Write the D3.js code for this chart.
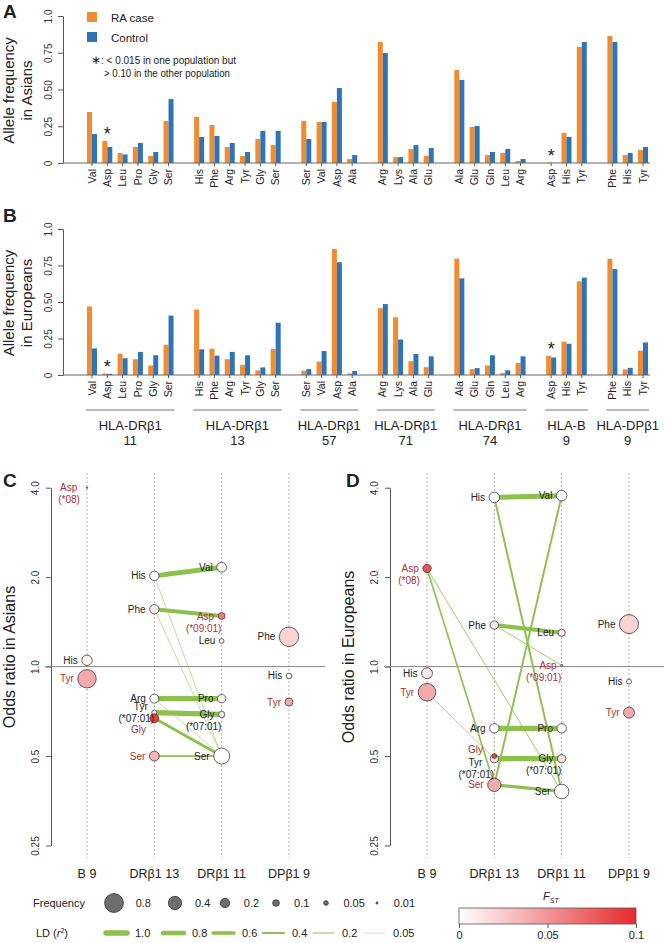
<!DOCTYPE html>
<html>
<head>
<meta charset="utf-8">
<script src="https://cdn.jsdelivr.net/npm/d3@7"></script>
<style>
  body { margin: 0; background: #fff; }
  svg text { font-family: "Liberation Sans", Arial, sans-serif; fill: #222; }
</style>
</head>
<body>
<svg id="fig" width="665" height="943"></svg>
<script>
// ---- bar panels (A, B) ----
const residues = ["Val","Asp","Leu","Pro","Gly","Ser", "His","Phe","Arg","Tyr","Gly","Ser",
  "Ser","Val","Asp","Ala", "Arg","Lys","Ala","Glu", "Ala","Glu","Gln","Leu","Arg",
  "Asp","His","Tyr", "Phe","His","Tyr"];
const geneNames = ["HLA-DRβ1","HLA-DRβ1","HLA-DRβ1","HLA-DRβ1","HLA-DRβ1","HLA-B","HLA-DPβ1"];
const genePositions = ["11","13","57","71","74","9","9"];
const groupSizes = [6, 6, 4, 4, 5, 3, 3];
const asianCase = [0.347,0.150,0.068,0.109,0.048,0.286, 0.313,0.259,0.109,0.048,0.163,0.122,
  0.286,0.279,0.415,0.027, 0.823,0.040,0.095,0.048, 0.633,0.245,0.054,0.068,0.014,
  0.003,0.204,0.790, 0.864,0.054,0.088];
const asianControl = [0.197,0.109,0.058,0.136,0.075,0.435, 0.177,0.184,0.136,0.075,0.218,0.218,
  0.163,0.279,0.510,0.054, 0.748,0.040,0.122,0.102, 0.565,0.252,0.075,0.095,0.027,
  0.001,0.177,0.823, 0.823,0.068,0.109];
const euroCase = [0.470,0.010,0.146,0.108,0.065,0.207, 0.448,0.180,0.108,0.068,0.032,0.178,
  0.029,0.092,0.863,0.011, 0.457,0.396,0.095,0.054, 0.797,0.040,0.065,0.013,0.083,
  0.130,0.228,0.642, 0.795,0.038,0.167];
const euroControl = [0.182,0.008,0.115,0.158,0.135,0.407, 0.176,0.133,0.158,0.135,0.052,0.358,
  0.040,0.164,0.772,0.027, 0.486,0.243,0.144,0.128, 0.662,0.047,0.135,0.032,0.128,
  0.120,0.214,0.667, 0.725,0.049,0.223];
const starred = [1, 25];
const freqTicks = [0, 0.25, 0.5, 0.75, 1];

// ---- odds ratio panels (C, D) ----
const oddsColumns = ["B 9", "DRβ1 13", "DRβ1 11", "DPβ1 9"];
const oddsTicks = [0.25, 0.5, 1, 2, 4];

const asiaCol  = [0,0,0, 1,1,1,1,1,1, 2,2,2,2,2,2, 3,3,3];
const asiaRes  = ["Asp","His","Tyr","His","Phe","Arg","Tyr","Gly","Ser","Val","Asp","Leu","Pro","Gly","Ser","Phe","His","Tyr"];
const asiaTag  = ["(*08)","","","","","","(*07:01)","","","","(*09:01)","","","(*07:01)","","","",""];
const asiaOR   = [4.0,1.05,0.91, 2.02,1.56,0.78,0.70,0.67,0.50, 2.16,1.48,1.22,0.78,0.69,0.50, 1.26,0.93,0.76];
const asiaFreq = [0.005,0.245,0.77, 0.20,0.20,0.18,0.06,0.18,0.22, 0.22,0.11,0.05,0.16,0.09,0.58, 0.85,0.07,0.145];
const asiaFst  = [0.05,0.005,0.04, 0,0.01,0,0.005,0.09,0.035, 0,0.06,0.005,0,0.01,0, 0.02,0,0.04];
const asiaRisk = [1,0,1, 0,0,0,0,1,1, 0,1,0,0,0,0, 0,0,1];
const asiaLD   = [[3,9,0.9],[4,10,0.75],[3,14,0.1],[4,14,0.1],[5,12,0.95],[5,14,0.1],[6,13,0.95],[7,14,0.5],[8,14,0.3]];

const euroCol  = [0,0,0, 1,1,1,1,1,1, 2,2,2,2,2,2, 3,3,3];
const euroRes  = ["Asp","His","Tyr","His","Phe","Arg","Tyr","Gly","Ser","Val","Leu","Asp","Pro","Gly","Ser","Phe","His","Tyr"];
const euroTag  = ["(*08)","","","","","","(*07:01)","","","","","(*09:01)","","(*07:01)","","","",""];
const euroOR   = [2.14,0.95,0.82, 3.71,1.38,0.62,0.49,0.50,0.40, 3.76,1.30,1.01,0.62,0.49,0.38, 1.39,0.89,0.70];
const euroFreq = [0.16,0.27,0.70, 0.25,0.16,0.20,0.15,0.05,0.40, 0.25,0.12,0.01,0.20,0.16,0.48, 0.82,0.055,0.27];
const euroFst  = [0.08,0.01,0.04, 0,0.01,0,0.015,0.09,0.04, 0,0.01,0.03,0,0.015,0, 0.02,0,0.04];
const euroRisk = [1,0,1, 0,0,0,0,1,1, 0,0,1,0,0,0, 0,0,1];
const euroLD   = [[3,9,0.9],[3,14,0.35],[9,8,0.35],[0,8,0.3],[0,14,0.15],[2,6,0.12],[4,10,0.75],[4,11,0.15],[5,12,0.95],[6,13,0.95],[8,14,0.6]];

// legend values
const freqLegend = [0.8, 0.4, 0.2, 0.1, 0.05, 0.01];
const ldLegend = [1.0, 0.8, 0.6, 0.4, 0.2, 0.05];
const fstTicks = [0, 0.05, 0.1];

const svg = d3.select("#fig");
const orange = "#f28b30", blue = "#2f74b5", green = "#8dc04d", riskRed = "#a8322f";

const slotOf = [];
groupSizes.forEach((n, g) => { for (let j = 0; j < n; j++) slotOf.push(slotOf.length + g); });
const x = d3.scaleLinear().domain([0, 36]).range([92, 643]);

function rotLabels(a, off) {
  a.selectAll(".tick text")
    .attr("transform", "rotate(-90)")
    .attr("x", 0).attr("y", -off).attr("dy", 0)
    .attr("text-anchor", "middle")
    .attr("font-size", 10).style("fill", "#333");
  a.select(".domain").attr("stroke", "#555");
  a.selectAll(".tick line").attr("stroke", "#555");
}

function barPanel(caseVals, ctrlVals, top, base, popName, withGroups) {
  const y = d3.scaleLinear().domain([0, 1]).range([base, top]);
  const g = svg.append("g");

  g.append("g").attr("transform", "translate(63,0)")
    .call(d3.axisLeft(y).tickValues(freqTicks).tickSize(5).tickSizeOuter(0)
      .tickFormat(d => d === 0 ? "0" : d === 1 ? "1.0" : d3.format(".2f")(d)))
    .call(a => rotLabels(a, 11));

  g.selectAll(".case").data(caseVals).join("rect")
    .attr("x", (d, i) => x(slotOf[i]) - 5).attr("width", 5)
    .attr("y", d => y(d)).attr("height", d => base - y(d))
    .attr("fill", orange);
  g.selectAll(".ctrl").data(ctrlVals).join("rect")
    .attr("x", (d, i) => x(slotOf[i])).attr("width", 5)
    .attr("y", d => y(d)).attr("height", d => base - y(d))
    .attr("fill", blue);

  g.append("line").attr("x1", 63).attr("x2", 650).attr("y1", base).attr("y2", base)
    .attr("stroke", "#666");
  g.selectAll(".xt").data(slotOf).join("line")
    .attr("x1", d => x(d)).attr("x2", d => x(d)).attr("y1", base).attr("y2", base + 3)
    .attr("stroke", "#555");

  g.selectAll(".res").data(residues).join("text")
    .attr("transform", (d, i) => `translate(${x(slotOf[i])},${base + 6}) rotate(-90)`)
    .attr("text-anchor", "end").attr("dy", "0.35em").attr("font-size", 10.5)
    .text(d => d);

  starred.forEach(i => {
    g.append("text").attr("x", x(slotOf[i])).attr("y", y(Math.max(caseVals[i], ctrlVals[i])) - 1)
      .attr("text-anchor", "middle").attr("font-size", 18).text("*");
  });

  const cy = (top + base) / 2 + 1;
  g.append("text").attr("transform", `translate(14,${cy}) rotate(-90)`)
    .attr("text-anchor", "middle").attr("font-size", 15).text("Allele frequency");
  g.append("text").attr("transform", `translate(32,${cy}) rotate(-90)`)
    .attr("text-anchor", "middle").attr("font-size", 15).text("in " + popName);

  if (withGroups) {
    let start = 0;
    groupSizes.forEach((n, gi) => {
      const x0 = x(slotOf[start]) - 6, x1 = x(slotOf[start + n - 1]) + 6, xm = (x0 + x1) / 2;
      g.append("line").attr("x1", x0).attr("x2", x1).attr("y1", 410).attr("y2", 410)
        .attr("stroke", "#777");
      g.append("text").attr("x", xm).attr("y", 429.5).attr("text-anchor", "middle")
        .attr("font-size", 13).text(geneNames[gi]);
      g.append("text").attr("x", xm).attr("y", 444.5).attr("text-anchor", "middle")
        .attr("font-size", 13).text(genePositions[gi]);
      start += n;
    });
  }
}

barPanel(asianCase, asianControl, 16, 163, "Asians", false);
barPanel(euroCase, euroControl, 229, 375, "Europeans", true);

// legend in A
svg.append("rect").attr("x", 87).attr("y", 12).attr("width", 10).attr("height", 10).attr("fill", orange);
svg.append("rect").attr("x", 87).attr("y", 32).attr("width", 10).attr("height", 10).attr("fill", blue);
svg.append("text").attr("x", 111).attr("y", 21.5).attr("font-size", 11.5).text("RA case");
svg.append("text").attr("x", 111).attr("y", 41.5).attr("font-size", 11.5).text("Control");
svg.append("text").attr("x", 91).attr("y", 64).attr("font-size", 12).text("∗");
svg.append("text").attr("x", 101).attr("y", 63.5).attr("font-size", 10)
  .attr("textLength", 135).attr("lengthAdjust", "spacingAndGlyphs").text(": < 0.015 in one population but");
svg.append("text").attr("x", 104).attr("y", 76.5).attr("font-size", 10)
  .attr("textLength", 126).attr("lengthAdjust", "spacingAndGlyphs").text("> 0.10 in the other population");

// ---- odds ratio panels ----
const rScale = d3.scaleSqrt().domain([0, 1]).range([0, 10.5]);
const ldWidth = r2 => Math.max(0.4, 5.5 * r2);
const fstColor = d3.scaleLinear().domain([0, 0.1]).range(["#ffffff", "#e42a2c"]);
const yOdds = d3.scaleLog().base(2).domain([0.25, 4]).range([845.5, 487.7]);

function oddsPanel(o) {
  const g = svg.append("g");
  const cx = d3.scaleLinear().domain([0, 3]).range(o.colRange);

  g.selectAll(".col").data(oddsColumns).join("line")
    .attr("x1", (d, i) => cx(i)).attr("x2", (d, i) => cx(i))
    .attr("y1", 473).attr("y2", 858)
    .attr("stroke", "#999").attr("stroke-width", 0.8).attr("stroke-dasharray", "2,2");
  g.selectAll(".colLab").data(oddsColumns).join("text")
    .attr("x", (d, i) => cx(i)).attr("y", 877.5).attr("text-anchor", "middle")
    .attr("font-size", 12.5).text(d => d);

  g.append("g").attr("transform", `translate(${o.axisX},0)`)
    .call(d3.axisLeft(yOdds).tickValues(oddsTicks).tickSize(5).tickSizeOuter(0)
      .tickFormat(d => d === 0.25 ? "0.25" : d.toFixed(1)))
    .call(a => rotLabels(a, 12));

  g.append("line").attr("x1", o.axisX - 6).attr("x2", o.lineEnd)
    .attr("y1", yOdds(1)).attr("y2", yOdds(1)).attr("stroke", "#888");

  g.append("text").attr("transform", `translate(${o.axisX - 36},657) rotate(-90)`)
    .attr("text-anchor", "middle").attr("font-size", 16).text(o.title);

  const px = i => cx(o.col[i]), py = i => yOdds(o.or[i]);

  g.selectAll(".ld").data(o.ld).join("line")
    .attr("x1", d => px(d[0])).attr("y1", d => py(d[0]))
    .attr("x2", d => px(d[1])).attr("y2", d => py(d[1]))
    .attr("stroke", green).attr("stroke-width", d => ldWidth(d[2]));

  g.selectAll(".pt").data(o.res).join("circle")
    .attr("cx", (d, i) => px(i)).attr("cy", (d, i) => py(i))
    .attr("r", (d, i) => Math.max(0.7, rScale(o.freq[i])))
    .attr("fill", (d, i) => fstColor(o.fst[i]))
    .attr("stroke", "#3a3a3a").attr("stroke-width", 0.8);

  o.res.forEach((name, i) => {
    const nd = o.nudge[i] || {};
    const r = rScale(o.freq[i]);
    const col = o.risk[i] ? riskRed : "#222";
    g.append("text").attr("x", px(i) - r - 4 + (nd.dx || 0)).attr("y", py(i) + (nd.dy || 0))
      .attr("dy", "0.35em").attr("text-anchor", "end").attr("font-size", 10)
      .style("fill", col).text(name);
    if (o.tag[i]) {
      g.append("text").attr("x", px(i) - 18).attr("y", py(i) + (nd.sdy || 12))
        .attr("dy", "0.35em").attr("text-anchor", "middle").attr("font-size", 10)
        .style("fill", col).text(o.tag[i]);
    }
  });
}

oddsPanel({ colRange: [87, 289], axisX: 51, lineEnd: 325, title: "Odds ratio in Asians",
  col: asiaCol, res: asiaRes, tag: asiaTag, or: asiaOR, freq: asiaFreq, fst: asiaFst, risk: asiaRisk, ld: asiaLD,
  nudge: { 0: { dx: -5 }, 6: { dy: -6, sdy: 6 }, 7: { dy: 11 } } });
oddsPanel({ colRange: [427, 629], axisX: 390, lineEnd: 664, title: "Odds ratio in Europeans",
  col: euroCol, res: euroRes, tag: euroTag, or: euroOR, freq: euroFreq, fst: euroFst, risk: euroRisk, ld: euroLD,
  nudge: { 6: { dx: -4, dy: 4, sdy: 16 }, 7: { dx: -5, dy: -7 } } });

// panel letters
[["A", 3, 18], ["B", 3, 222], ["C", 3, 487], ["D", 346, 487]].forEach(([t, lx, ly]) => {
  svg.append("text").attr("x", lx).attr("y", ly).attr("font-size", 19).attr("font-weight", "bold").text(t);
});

// ---- bottom legends ----
const freqX = [114, 175, 225, 276, 326, 377];
svg.append("text").attr("x", 33).attr("y", 903).attr("dy", "0.35em").attr("font-size", 11).text("Frequency");
freqLegend.forEach((f, i) => {
  const r = rScale(f);
  svg.append("circle").attr("cx", freqX[i]).attr("cy", 903).attr("r", Math.max(0.8, r))
    .attr("fill", "#6e6e6e").attr("stroke", "#333").attr("stroke-width", 0.8);
  svg.append("text").attr("x", freqX[i] + 16 + r * 0.6).attr("y", 903).attr("dy", "0.35em")
    .attr("font-size", 11).text(String(f));
});

const ldLabelX = [135, 192, 242, 292, 342, 393];
const ldT = svg.append("text").attr("x", 36).attr("y", 933).attr("dy", "0.35em").attr("font-size", 11);
ldT.append("tspan").text("LD (");
ldT.append("tspan").attr("font-style", "italic").text("r");
ldT.append("tspan").attr("font-size", 7).attr("dy", -4).text("2");
ldT.append("tspan").attr("dy", 4).text(")");
ldLegend.forEach((v, i) => {
  svg.append("line").attr("x1", ldLabelX[i] - 29).attr("x2", ldLabelX[i] - 8)
    .attr("y1", 933).attr("y2", 933).attr("stroke", green)
    .attr("stroke-width", ldWidth(v)).attr("stroke-linecap", "round");
  svg.append("text").attr("x", ldLabelX[i]).attr("y", 933).attr("dy", "0.35em")
    .attr("font-size", 11).text(v === 1 ? "1.0" : String(v));
});

const grad = svg.append("defs").append("linearGradient").attr("id", "fstGrad");
grad.append("stop").attr("offset", "0%").attr("stop-color", fstColor(0));
grad.append("stop").attr("offset", "100%").attr("stop-color", fstColor(0.1));
const fx = d3.scaleLinear().domain([0, 0.1]).range([459, 636]);
svg.append("rect").attr("x", 459).attr("y", 908).attr("width", 177).attr("height", 16)
  .attr("fill", "url(#fstGrad)").attr("stroke", "#555").attr("stroke-width", 0.8);
svg.append("g").attr("transform", "translate(0,924)")
  .call(d3.axisBottom(fx).tickValues(fstTicks).tickSize(4).tickFormat(d => d === 0 ? "0" : String(d)))
  .call(a => {
    a.select(".domain").remove();
    a.selectAll(".tick line").attr("stroke", "#555");
    a.selectAll(".tick text").attr("font-size", 11).style("fill", "#222");
  });
const fst = svg.append("text").attr("x", 543).attr("y", 900).attr("font-size", 11).attr("font-style", "italic");
fst.append("tspan").text("F");
fst.append("tspan").attr("font-size", 7).attr("dy", 3).text("ST");
</script>
</body>
</html>
